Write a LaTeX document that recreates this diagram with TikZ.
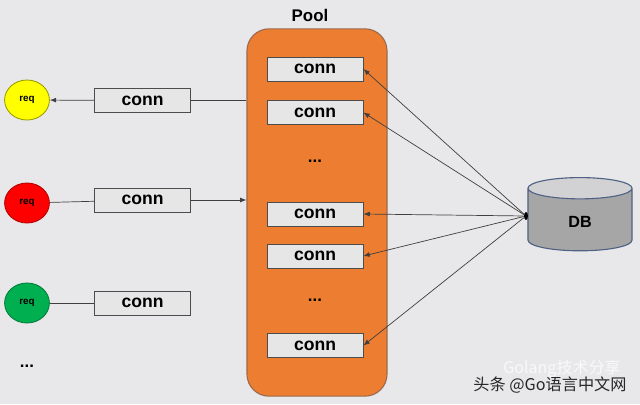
\documentclass[tikz,border=0pt]{standalone}
\usepackage{fontspec}
\setmainfont{Liberation Sans}
\newfontfamily\cjk{Noto Sans CJK SC}
\usetikzlibrary{arrows.meta,shapes.geometric}
\definecolor{bgc}{HTML}{E8E8EA}
\definecolor{poolc}{HTML}{ED7D31}
\definecolor{pooledge}{HTML}{9C6B4F}
\definecolor{connc}{HTML}{E7E6E6}
\definecolor{dbbody}{HTML}{A6A6A6}
\definecolor{dbtop}{HTML}{D2D2D4}
\definecolor{dbedge}{HTML}{4F6283}
\definecolor{reqy}{HTML}{FFFF00}
\definecolor{reqr}{HTML}{FF0000}
\definecolor{reqg}{HTML}{00B050}

\begin{document}
\begin{tikzpicture}[x=0.025cm,y=-0.025cm,
    >={Latex[length=4.5pt,width=3.5pt]},
    conn/.style={draw=black!70,fill=connc,line width=0.6pt,minimum width=2.4cm,
        minimum height=0.6cm,inner sep=0pt,font=\fontsize{12.5}{14}\selectfont\bfseries},
    req/.style={ellipse,line width=0.6pt,minimum width=1.12cm,minimum height=1cm,
        inner sep=0pt,font=\fontsize{7}{8}\selectfont\bfseries},
    link/.style={draw=black!75,line width=0.5pt},
    dots/.style={font=\fontsize{12}{14}\selectfont\bfseries}]

    \fill[bgc] (0,0) rectangle (640,404);

    % pool
    \node[draw=pooledge,fill=poolc,line width=0.8pt,rounded corners=0.55cm,
        minimum width=3.5cm,minimum height=9.18cm] (pool) at (317,212.5) {};
    \node[font=\fontsize{12}{14}\selectfont\bfseries] (plabel) at (310,15) {Pool};

    \foreach \n/\y in {1/69,2/112.5,3/214,4/256,5/345.5}
        \node[conn] (k\n) at (315,\y) {conn};
    \node[dots] (d1) at (315,161) {...};
    \node[dots] (d2) at (315,300) {...};

    % requests
    \node[req,fill=reqy,draw=black!40!reqy] (r1) at (27,100) {req};
    \node[req,fill=reqr,draw=black!30!reqr] (r2) at (27,203) {req};
    \node[req,fill=reqg,draw=black!30!reqg] (r3) at (27,303) {req};
    \node[dots] (d3) at (27,366) {...};

    \node[conn] (c1) at (142.5,100.5) {conn};
    \node[conn] (c2) at (142.5,200) {conn};
    \node[conn] (c3) at (142.5,303) {conn};

    \draw[link] (c1.east -| pool.west) -- (c1);
    \draw[->,link] (c1) -- (r1);
    \draw[link] (r2) -- (c2);
    \draw[->,link] (c2) -- (c2.east -| pool.west);
    \draw[link] (r3) -- (c3);

    % db
    \node[cylinder,shape border rotate=90,aspect=0.65,draw=dbedge,line width=0.8pt,
        cylinder uses custom fill,cylinder body fill=dbbody,cylinder end fill=dbtop,
        minimum width=2.6cm,minimum height=1.83cm,
        font=\fontsize{11.5}{13}\selectfont\bfseries] (db) at (580,222) {DB};
    \node[ellipse,fill=black,inner sep=0pt,minimum width=0.1cm,minimum height=0.2cm]
        (hub) at (526,216) {};
    \foreach \n in {1,...,5}
        \draw[->,link] (hub) -- (k\n.east);

    % watermark
    \node[font=\cjk\fontsize{11.4}{13}\selectfont,text=white!75!bgc] (wm2) at (562,369) {Golang技术分享};
    \node[font=\cjk\fontsize{11.5}{13}\selectfont,text=black!85] (wm) at (550,385) {头条 @Go语言中文网};
\end{tikzpicture}
\end{document}
